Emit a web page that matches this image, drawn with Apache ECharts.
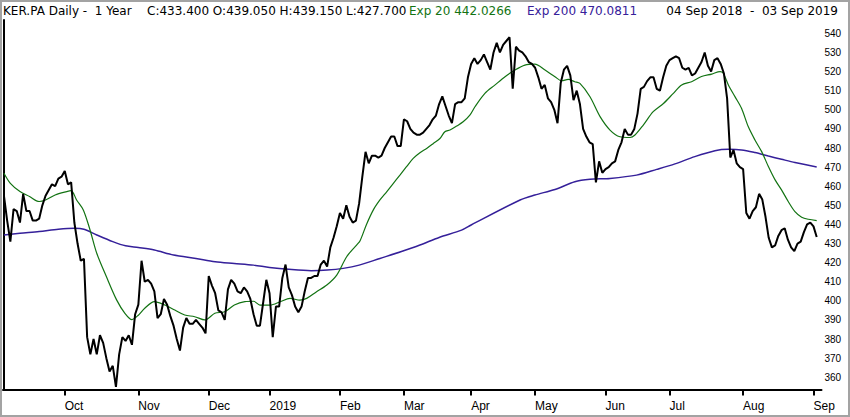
<!DOCTYPE html>
<html>
<head>
<meta charset="utf-8">
<script src="https://cdn.jsdelivr.net/npm/echarts@6/dist/echarts.min.js"></script>
<style>
  html, body { margin: 0; padding: 0; background: #fff; }
  #chart { width: 850px; height: 417px; }
</style>
</head>
<body>
<div id="chart"></div>
<script>
// --- Data: KER.PA daily closes, 04 Sep 2018 - 03 Sep 2019 (one per trading day) ---
var startDate = '2018-09-04';
var endDate = '2019-09-03';
var holidays = ['2018-12-25', '2018-12-26', '2019-01-01', '2019-04-19', '2019-04-22', '2019-05-01'];

var closes = [
  455, 442, 431, 448, 447, 441, 456, 447, 447, 442,
  442, 443, 450, 455, 458, 461, 460, 464, 465, 468,
  461, 462, 441, 430, 421, 422, 381, 372, 380, 372,
  382, 378, 370, 363, 366, 355, 372, 381, 379, 382,
  377, 393, 398, 421, 410, 411, 409, 405, 391, 393,
  401, 398, 392, 387, 380, 374, 386, 391, 388, 388,
  390, 388, 386, 383, 413, 408, 404, 395, 394, 390,
  406, 411, 409, 405, 404, 407, 405, 401, 393, 387,
  387, 399, 411, 404, 381, 397, 397, 412, 419, 407,
  403, 397, 394, 397, 405, 412, 412, 413, 413, 419,
  421, 418, 428, 433, 439, 446, 443, 450, 444, 441,
  442, 451, 465, 478, 472, 476, 476, 475, 476, 480,
  483, 486, 486, 481, 481, 495, 494, 490, 488, 487,
  487, 488, 490, 492, 495, 497, 503, 507, 502, 497,
  493, 503, 504, 504, 506, 517, 524, 527, 524, 526,
  529, 525, 521, 530, 535, 530, 534, 536, 538, 511,
  533, 531, 530, 528, 525, 524, 522, 517, 511, 513,
  506, 504, 500, 493, 514, 521, 523, 518, 505, 510,
  503, 490, 486, 483, 482, 462, 473, 467, 469, 470,
  472, 473, 479, 483, 490, 487, 487, 490, 498, 511,
  512, 515, 517, 517, 511, 510, 517, 523, 526, 527,
  528, 527, 522, 521, 522, 518, 519, 522, 525, 530,
  523, 520, 526, 527, 524, 519, 506, 475, 479, 472,
  470, 469, 446, 443, 447, 449, 456, 453, 444, 433,
  428, 429, 434, 437, 438, 432, 428, 426, 430, 431,
  436, 440, 441, 439, 433.4
];

// moving averages: [trading-day index, value]
var ema20 = [
  [0, 466.8], [2, 461.5], [5, 457.2], [8, 454.6], [11, 452.0], [13, 452.8], [16, 455.4],
  [19.6, 457.2], [21, 457.7], [22.7, 452.8], [24.8, 447.6], [26.9, 437.1], [29, 424.9],
  [32, 412.7], [35.2, 400.5], [37.8, 393.5], [40, 390.2], [42, 392.5], [44, 396.1],
  [47, 399.6], [50.3, 397.8], [53.4, 395.2], [56.5, 392.6], [59.6, 391.7], [62.8, 390.0],
  [65.9, 393.5], [69, 394.3], [72, 397.8], [75.3, 399.6], [78, 399.8], [80, 397.8],
  [83.2, 397.8], [86.3, 399.5], [89.4, 401.3], [92.5, 400.4], [94.6, 401.3], [97.7, 404.8],
  [100.9, 408.3], [104, 413.5], [107.1, 423.1], [110.2, 429.2], [111.3, 431.5], [113.3, 440.0],
  [115.4, 447.5], [117.5, 452.8], [119.6, 457.1], [121.7, 461.5], [123.75, 465.8],
  [125.8, 470.2], [127.9, 474.6], [130, 477.5], [132.1, 479.8], [134.2, 482.4],
  [136.25, 485.0], [137.8, 488.5], [139.4, 489.4], [141.5, 491.5], [143.5, 493.7],
  [145.6, 497.2], [147.2, 501.6], [150.3, 508.6], [153.4, 512.9], [156.6, 517.3],
  [159.7, 520.8], [162.8, 523.4], [165.9, 523.9], [169.1, 520.8], [172.2, 517.3],
  [174.3, 515.2], [176.35, 515.9], [178.4, 514.7], [180, 513.8], [183.15, 506.8],
  [186.3, 496.4], [189.4, 489.4], [192.5, 485.9], [195.65, 485.5], [197.2, 486.8],
  [199.8, 492.0], [202.9, 499.0], [206.1, 503.3], [209.2, 508.6], [211.8, 513.0],
  [214.9, 514.7], [218, 517.4], [221.2, 518.7], [223.8, 520.0], [224.8, 519.1],
  [226.4, 513.0], [228.45, 506.9], [230.5, 500.8], [232.6, 491.2], [234.7, 484.2],
  [236.8, 478.1], [238.9, 470.3], [241, 463.3], [243, 458.1], [245.1, 452.0],
  [247.2, 446.7], [249.3, 443.8], [251.4, 442.7], [254, 442.03]
];

var ema200 = [
  [0, 434.5], [5, 435.4], [11, 436.3], [17, 437.5], [22, 438.0], [25, 437.5], [29, 434.5],
  [34, 431.0], [38, 428.8], [42, 427.9], [47, 426.6], [53, 424.0], [60, 422.2], [66, 420.5],
  [72, 419.6], [78, 418.7], [83, 417.5], [89, 416.5], [96, 415.8], [101, 416.1], [106, 417.0],
  [111, 418.7], [117.5, 422.2], [124, 425.7], [130, 429.2], [136, 433.2], [143, 437.0],
  [146, 439.7], [161.3, 452.8], [165.9, 455.4], [172.2, 458.3], [178.4, 462.3],
  [183.15, 463.6], [189.4, 464.1], [197.7, 465.8], [204, 468.8], [209.7, 471.7],
  [215.9, 475.5], [222.2, 478.6], [226.4, 479.3], [230.5, 479.0], [234.7, 477.6],
  [238.9, 475.8], [243, 474.1], [247.2, 472.4], [254, 470.08]
];

var yTicks = [360, 370, 380, 390, 400, 410, 420, 430, 440, 450, 460, 470, 480, 490, 500, 510, 520, 530, 540];
var monthNames = ['Jan', 'Feb', 'Mar', 'Apr', 'May', 'Jun', 'Jul', 'Aug', 'Sep', 'Oct', 'Nov', 'Dec'];

var headerInfo = 'KER.PA Daily -  1 Year';
var headerPrices = 'C:433.400 O:439.050 H:439.150 L:427.700';
var headerEma20 = 'Exp 20 442.0266';
var headerEma200 = 'Exp 200 470.0811';
var headerRange = '04 Sep 2018  -  03 Sep 2019';

(function() {
  var black = '#000000';
  var green = '#137313';
  var purple = '#35209a';
  var frame = '#a3a3a3';

  // trading days (weekdays minus exchange holidays)
  var dates = [];
  var d = new Date(startDate + 'T12:00:00Z');
  var end = new Date(endDate + 'T12:00:00Z');
  while (d <= end) {
    var wd = d.getUTCDay();
    var iso = d.toISOString().slice(0, 10);
    if (wd !== 0 && wd !== 6 && holidays.indexOf(iso) < 0) dates.push(new Date(d.getTime()));
    d.setUTCDate(d.getUTCDate() + 1);
  }

  // first trading day of each month -> tick
  var monthTicks = [];
  for (var i = 1; i < dates.length; i++) {
    if (dates[i].getUTCMonth() !== dates[i - 1].getUTCMonth()) monthTicks.push(i);
  }

  var closeData = closes.map(function(v, i) { return [i, v]; });

  var chart = echarts.init(document.getElementById('chart'), null, { renderer: 'svg' });
  chart.setOption({
    animation: false,
    backgroundColor: '#ffffff',
    grid: { left: 3, right: 28.5, top: 20, bottom: 27.5 },
    xAxis: {
      type: 'value',
      min: -0.3,
      max: 255.5,
      axisLine: { show: true, lineStyle: { color: black, width: 2 } },
      axisTick: {
        show: true,
        length: 6,
        customValues: monthTicks,
        lineStyle: { color: black, width: 2 }
      },
      axisLabel: {
        customValues: monthTicks,
        align: 'left',
        margin: 10,
        color: black,
        fontSize: 12,
        fontFamily: '"Liberation Sans", Arial, sans-serif',
        formatter: function(val) {
          var dt = dates[Math.round(val)];
          if (!dt) return '';
          return dt.getUTCMonth() === 0 ? String(dt.getUTCFullYear()) : monthNames[dt.getUTCMonth()];
        }
      },
      splitLine: { show: false }
    },
    yAxis: {
      type: 'value',
      position: 'right',
      min: 353.6,
      max: 547,
      axisLine: { show: true, lineStyle: { color: black, width: 2 } },
      axisTick: { show: false },
      axisLabel: {
        customValues: yTicks,
        margin: 3,
        color: black,
        fontSize: 10,
        fontFamily: '"Liberation Sans Narrow", "Liberation Sans", Arial, sans-serif'
      },
      splitLine: { show: false }
    },
    series: [
      {
        name: 'Exp 200',
        type: 'line',
        data: ema200,
        smooth: 0.3,
        symbol: 'none',
        lineStyle: { color: purple, width: 1.5 },
        z: 2
      },
      {
        name: 'Exp 20',
        type: 'line',
        data: ema20,
        smooth: 0.3,
        symbol: 'none',
        lineStyle: { color: green, width: 1.2 },
        z: 3
      },
      {
        name: 'KER.PA',
        type: 'line',
        data: closeData,
        symbol: 'none',
        lineStyle: { color: black, width: 2 },
        z: 4
      }
    ],
    graphic: [
      { type: 'text', x: 3, y: 10.5, style: { text: headerInfo, fill: black, font: '12px "DejaVu Sans"', verticalAlign: 'middle' } },
      { type: 'text', x: 147, y: 10.5, style: { text: headerPrices, fill: black, font: '12px "DejaVu Sans"', verticalAlign: 'middle' } },
      { type: 'text', x: 409, y: 10.5, style: { text: headerEma20, fill: green, font: '12px "DejaVu Sans"', verticalAlign: 'middle' } },
      { type: 'text', x: 527, y: 10.5, style: { text: headerEma200, fill: purple, font: '12px "DejaVu Sans"', verticalAlign: 'middle' } },
      { type: 'text', x: 838, y: 10.5, style: { text: headerRange, fill: black, font: '12px "DejaVu Sans"', align: 'right', verticalAlign: 'middle' } },
      { type: 'rect', shape: { x: 1, y: 1, width: 848, height: 415 }, style: { fill: 'none', stroke: frame, lineWidth: 2 }, z: 100 }
    ]
  });
  window.addEventListener('resize', function() { chart.resize(); });
})();
</script>
</body>
</html>
